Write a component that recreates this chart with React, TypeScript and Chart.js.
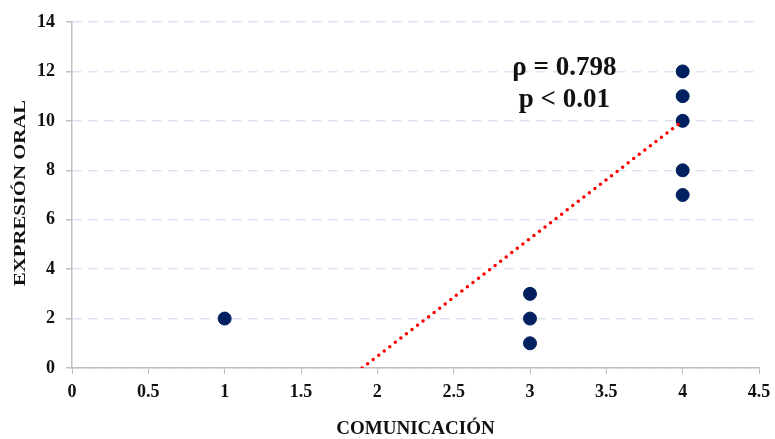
import React, { useEffect, useRef } from "react";
import { Chart, registerables } from "chart.js";

Chart.register(...registerables);

const comunicacion = [1, 3, 3, 3, 4, 4, 4, 4, 4];
const expresionOral = [2, 1, 2, 3, 7, 8, 10, 11, 12];
const trendX = [1.9, 4];
const trendY = [0, 10];
const annotationLines = ["ρ = 0.798", "p < 0.01"];
const annotationAt = { x: 3.225, y: [12.15, 10.85] };
const xTitle = "COMUNICACIÓN";
const yTitle = "EXPRESIÓN ORAL";

const FONT = "'Liberation Serif', 'Times New Roman', serif";

const annotationPlugin = {
  id: "annot",
  afterDatasetsDraw(chart: any) {
    const { ctx, scales } = chart;
    const x = scales.x.getPixelForValue(annotationAt.x);
    ctx.save();
    ctx.fillStyle = "#111";
    ctx.font = `bold 27px ${FONT}`;
    ctx.textAlign = "center";
    ctx.textBaseline = "middle";
    annotationLines.forEach((t, i) => {
      ctx.fillText(t, x, scales.y.getPixelForValue(annotationAt.y[i]));
    });
    ctx.restore();
    // y axis title (slightly stretched along its length)
    ctx.save();
    ctx.fillStyle = "#111";
    ctx.font = `bold 17px ${FONT}`;
    ctx.textAlign = "center";
    ctx.textBaseline = "middle";
    ctx.translate(21, 193);
    ctx.rotate(-Math.PI / 2);
    ctx.scale(1.22, 1);
    ctx.fillText(yTitle, 0, 0);
    ctx.restore();
  },
};

export default function App() {
  const ref = useRef<HTMLCanvasElement>(null);
  useEffect(() => {
    if (!ref.current) return;
    const chart = new Chart(ref.current, {
      type: "scatter",
      data: {
        datasets: [
          {
            label: "trend",
            type: "line",
            data: trendX.map((x, i) => ({ x, y: trendY[i] })),
            borderColor: "#ff0000",
            borderWidth: 3.5,
            borderDash: [0, 7],
            borderCapStyle: "round",
            pointRadius: 0,
            fill: false,
            order: 0,
          } as any,
          {
            label: "data",
            data: comunicacion.map((x, i) => ({ x, y: expresionOral[i] })),
            backgroundColor: "#002060",
            borderColor: "#002060",
            pointRadius: 6.5,
            order: 1,
          },
        ],
      },
      options: {
        animation: false,
        responsive: true,
        maintainAspectRatio: false,
        layout: { padding: { top: 22, right: 16, left: 0, bottom: 0 } },
        plugins: { legend: { display: false }, tooltip: { enabled: false } },
        scales: {
          x: {
            type: "linear",
            min: 0,
            max: 4.5,
            afterFit: (s: any) => {
              s.height = 71;
              s.paddingLeft = 0;
              s.paddingRight = 0;
            },
            ticks: {
              stepSize: 0.5,
              color: "#111",
              padding: 8,
              font: { family: FONT, size: 18, weight: "bold" },
              callback: (v: any) => String(Number(v)),
            },
            grid: {
              drawOnChartArea: false,
              drawTicks: true,
              tickLength: 6,
              tickColor: "#bfbfbf",
            },
            border: { color: "#bfbfbf", width: 1.5 },
            title: {
              display: true,
              text: xTitle,
              color: "#111",
              font: { family: FONT, size: 19, weight: "bold" },
              padding: { top: 0, bottom: -1 },
            },
          },
          y: {
            min: 0,
            max: 14,
            afterFit: (s: any) => {
              s.width = 72;
              s.paddingTop = 0;
              s.paddingBottom = 0;
            },
            ticks: {
              stepSize: 2,
              color: "#111",
              padding: 11,
              font: { family: FONT, size: 18, weight: "bold" },
            },
            grid: {
              color: "#dde3f2",
              lineWidth: 1.5,
              tickLength: 6,
              tickColor: "#bfbfbf",
              tickBorderDash: [],
            } as any,
            border: { color: "#bfbfbf", width: 1.5, dash: [9, 7] } as any,
          },
        },
      } as any,
      plugins: [annotationPlugin],
    });
    return () => chart.destroy();
  }, []);
  return (
    <div style={{ position: "fixed", left: 0, top: 0, width: 775, height: 439, background: "#fff" }}>
      <canvas ref={ref} />
    </div>
  );
}
